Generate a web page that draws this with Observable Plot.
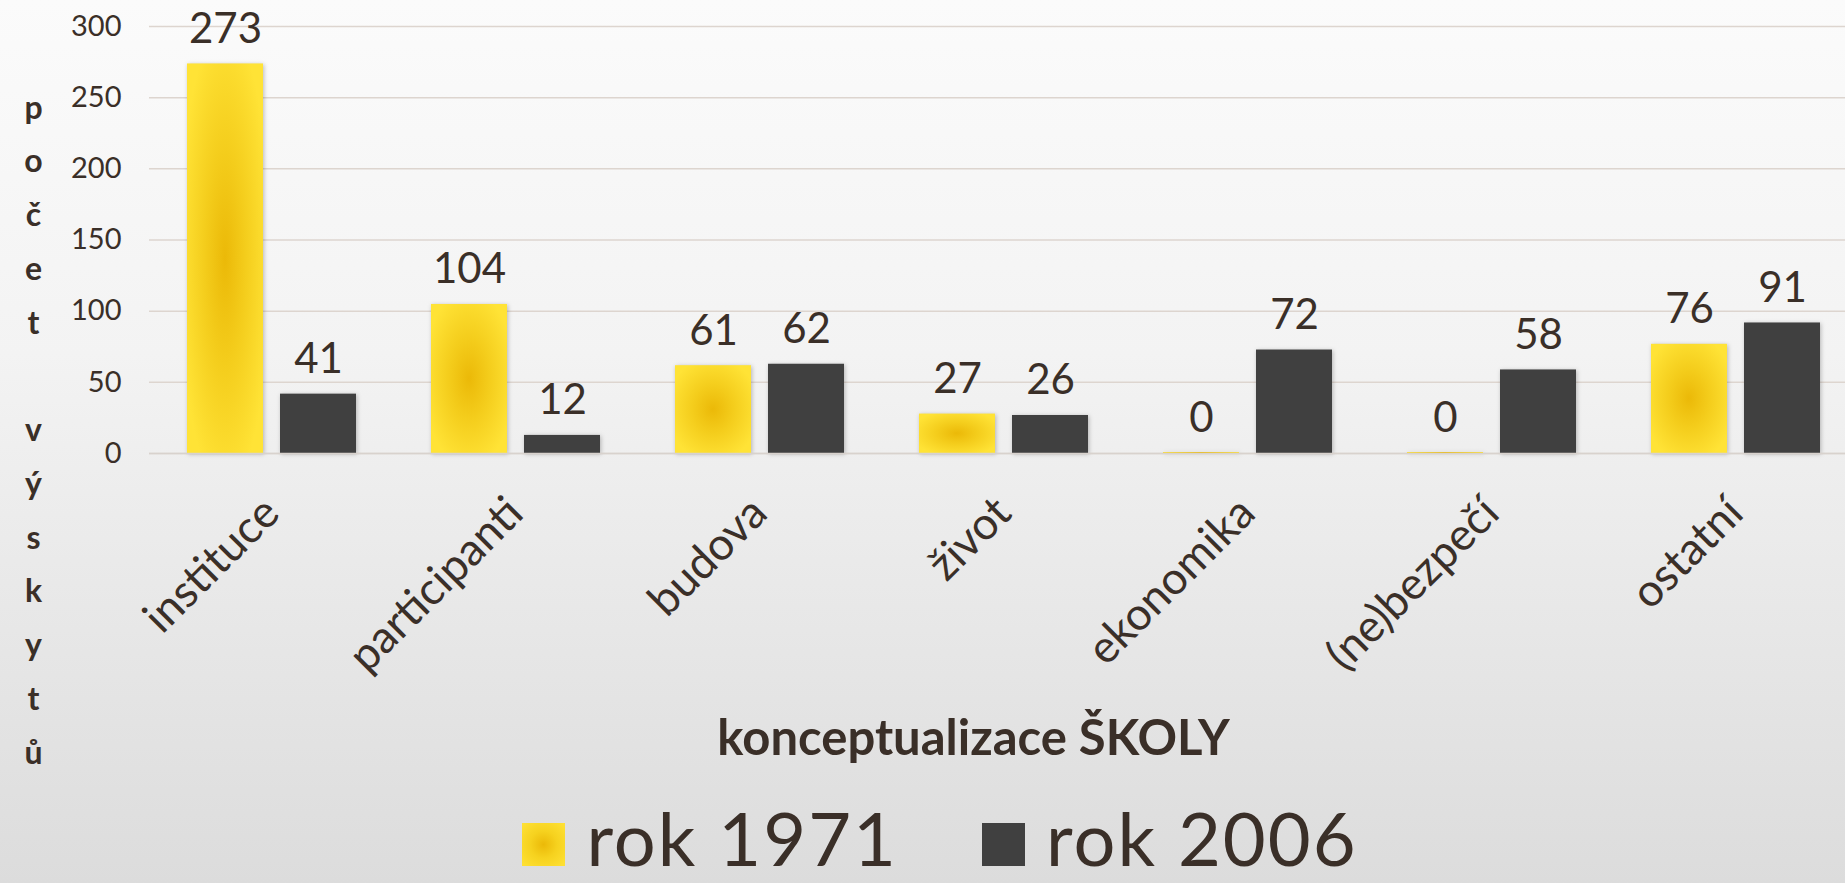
<!DOCTYPE html>
<html>
<head>
<meta charset="utf-8">
<script src="https://cdn.jsdelivr.net/npm/d3@7"></script>
<script src="https://cdn.jsdelivr.net/npm/@observablehq/plot@0.6"></script>
<style>
  html, body { margin: 0; padding: 0; }
  body {
    width: 1845px; height: 883px; overflow: hidden; position: relative;
    background: linear-gradient(to bottom, #fbfbfb 0%, #f3f3f3 40%, #dcdcdc 100%);
    font-family: Lato, "DejaVu Sans", sans-serif; color: #3a2f28;
  }
  #chart { width: 1845px; overflow: hidden; }
  #chart svg { display: block; max-width: none !important; width: 1859px; height: 800px; }
  #chart g[aria-label="bar"] rect { filter: drop-shadow(1px 1px 2px rgba(0,0,0,0.25)); }
  #legend {
    position: absolute; left: 0; top: 794px; width: 1845px; height: 89px;
    display: flex; justify-content: center; align-items: center;
    font-size: 74px; line-height: 1.2; color: #3a2f28; padding-left: 35px; box-sizing: border-box;
  }
  #legend .sw { display: inline-block; width: 43px; height: 43px; margin-right: 21px; position: relative; top: 6px; }
  #legend .item { display: flex; align-items: center; margin: 0 42px; }
  #legend .lab { letter-spacing: 2px; }
</style>
</head>
<body>
<div id="chart"></div>
<div id="legend"></div>
<script>
const categories = ["instituce", "participanti", "budova", "život", "ekonomika", "(ne)bezpečí", "ostatní"];
const years = ["rok 1971", "rok 2006"];
const values1971 = [273, 104, 61, 27, 0, 0, 76];
const values2006 = [41, 12, 62, 26, 72, 58, 91];
const yTicks = [0, 50, 100, 150, 200, 250, 300];
const yTitle = "počet výskytů";
const xTitle = "konceptualizace ŠKOLY";
const seriesColors = ["url(#gold)", "#404040"];
const legendSwatches = ["radial-gradient(circle at 50% 50%, #ebb908 0%, #f6d21f 45%, #ffe236 100%)", "#404040"];

const rows = categories.flatMap((c, i) => [
  {category: c, year: years[0], value: values1971[i]},
  {category: c, year: years[1], value: values2006[i]}
]);

const textColor = "#3a2f28";

const chart = Plot.plot({
  width: 1859,
  height: 800,
  marginLeft: 146,
  marginRight: 0,
  marginTop: 26,
  marginBottom: 347,
  style: {background: "transparent", fontFamily: "Lato, 'DejaVu Sans', sans-serif", color: textColor, overflow: "visible"},
  fx: {domain: categories, padding: 0, label: null},
  x: {domain: years, paddingInner: 0.187, paddingOuter: 0.4, axis: null},
  y: {domain: [0, 300], label: null},
  color: {domain: years, range: seriesColors},
  marks: [
    Plot.gridY(yTicks, {stroke: "#ddd5cf", strokeOpacity: 1, strokeWidth: 1.5}),
    Plot.barY(rows, {fx: "category", x: "year", y: "value", fill: "year", insetTop: -1}),
    Plot.ruleY([0], {stroke: "#d8d2cd", strokeWidth: 1.5}),
    Plot.text(rows, {fx: "category", x: "year", y: "value", text: d => String(d.value),
      lineAnchor: "bottom", dy: -22, fontSize: 42, fill: textColor}),
    Plot.axisY(yTicks, {tickSize: 0, tickPadding: 28, fontSize: 29, label: null, fill: textColor}),
    Plot.axisFx({anchor: "bottom", tickRotate: -45, tickSize: 0, tickPadding: 52, fontSize: 45, label: null, fill: textColor}),
    Plot.text([{category: categories[0], t: yTitle.split("").map(ch => ch === " " ? "\u00a0" : ch).join("\n")}],
      {fx: "category", text: "t", frameAnchor: "left", dx: -116, dy: 184, lineHeight: 1.68,
       fontSize: 32, fontWeight: "bold", fill: textColor, textAnchor: "middle"}),
    Plot.text([{category: categories[3], t: xTitle}],
      {fx: "category", text: "t", frameAnchor: "bottom", dx: -30, dy: 286, lineAnchor: "middle",
       fontSize: 49, fontWeight: "bold", fill: textColor})
  ]
});

// gradient definition for the 1971 bars
const defs = d3.create("svg:defs");
const grad = defs.append("radialGradient").attr("id", "gold").attr("cx", "50%").attr("cy", "50%").attr("r", "60%");
grad.append("stop").attr("offset", "0%").attr("stop-color", "#ebb908");
grad.append("stop").attr("offset", "45%").attr("stop-color", "#f4cd1c");
grad.append("stop").attr("offset", "100%").attr("stop-color", "#ffe336");
chart.insertBefore(defs.node(), chart.firstChild);

document.getElementById("chart").appendChild(chart);

const legend = document.getElementById("legend");
years.forEach((y, i) => {
  const item = document.createElement("span");
  item.className = "item";
  const sw = document.createElement("span");
  sw.className = "sw";
  sw.style.background = legendSwatches[i];
  const lab = document.createElement("span");
  lab.className = "lab";
  lab.textContent = y;
  item.appendChild(sw);
  item.appendChild(lab);
  legend.appendChild(item);
});
</script>
</body>
</html>
